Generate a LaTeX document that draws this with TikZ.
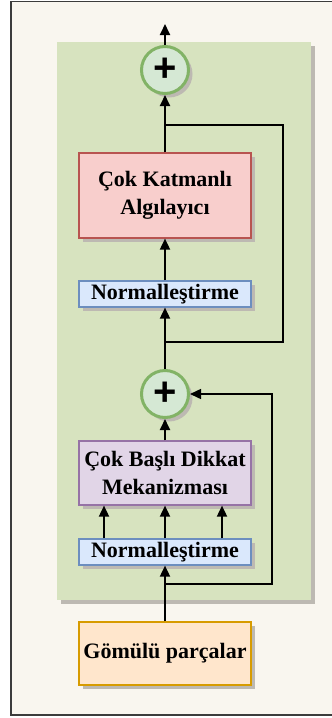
\documentclass[tikz,border=0pt]{standalone}
\usepackage{fontspec}
\setmainfont{Liberation Serif}
\newfontfamily\plusfont{Liberation Sans}
\usetikzlibrary{arrows.meta,shadows}
\definecolor{bgcream}{HTML}{F9F6EF}
\definecolor{framegrey}{HTML}{3C3C3C}
\definecolor{panelgreen}{HTML}{D7E3BF}
\definecolor{shadowgrey}{HTML}{BDB9B2}
\definecolor{pinkfill}{HTML}{F8CECC}
\definecolor{pinkline}{HTML}{B85450}
\definecolor{bluefill}{HTML}{DAE8FC}
\definecolor{blueline}{HTML}{6C8EBF}
\definecolor{purplefill}{HTML}{E1D5E7}
\definecolor{purpleline}{HTML}{9673A6}
\definecolor{orangefill}{HTML}{FFE6CC}
\definecolor{orangeline}{HTML}{D79B00}
\definecolor{circfill}{HTML}{D5E8D4}
\definecolor{circline}{HTML}{82B366}
\tikzset{
  shd/.style={drop shadow={shadow xshift=4pt,shadow yshift=-4pt,fill=shadowgrey,opacity=1}},
  blockbox/.style={rectangle,shd,line width=1.2pt,minimum width=172pt,inner sep=0pt,align=center,
    font=\fontsize{22}{28}\selectfont\bfseries},
  mlpbox/.style={blockbox,fill=pinkfill,draw=pinkline,minimum height=85pt},
  normbox/.style={blockbox,fill=bluefill,draw=blueline,minimum height=26pt},
  mhabox/.style={blockbox,fill=purplefill,draw=purpleline,minimum height=64pt},
  embbox/.style={blockbox,fill=orangefill,draw=orangeline,minimum height=63pt},
  addcirc/.style={circle,shd,fill=circfill,draw=circline,line width=3pt,minimum size=47pt,inner sep=0pt,
    font=\plusfont\fontsize{40}{40}\selectfont\bfseries},
  conn/.style={line width=1.8pt,draw=black,-{Triangle[width=10pt,length=11pt]}},
  resid/.style={line width=1.5pt,draw=black},
}
\begin{document}
\begin{tikzpicture}[x=1pt,y=-1pt]
\useasboundingbox (0,0) rectangle (332,718);
\fill[white] (0,0) rectangle (332,718);
\clip (0,0) rectangle (332,718);
% outer frame
\filldraw[fill=bgcream,draw=framegrey,line width=1.8pt] (11,1.5) rectangle (345,715);
% green panel
\fill[shadowgrey] (61,46) rectangle (315,604);
\fill[panelgreen] (57,42) rectangle (311,600);
% nodes
\node[embbox] (emb) at (165,653.5) {Gömülü parçalar};
\node[normbox] (norm2) at (165,552) {Normalleştirme};
\node[mhabox] (mha) at (165,473) {Çok Başlı Dikkat\\Mekanizması};
\node[addcirc] (add2) at (165,394) {+};
\node[normbox] (norm1) at (165,294) {Normalleştirme};
\node[mlpbox] (mlp) at (165,195.5) {Çok Katmanlı\\Algılayıcı};
\node[addcirc] (add1) at (165,70) {+};
\coordinate (out) at (165,24);
\coordinate (split2) at (165,584);
\coordinate (r2a) at (272,584);
\coordinate (r2b) at (272,394);
\coordinate (split1) at (165,342);
\coordinate (r1a) at (283,342);
\coordinate (r1b) at (283,125);
\coordinate (join1) at (165,125);
% connectors
\draw[conn] (emb.north) -- (norm2.south);
\draw[resid,-{Triangle[width=10pt,length=11pt]}] (split2) -- (r2a) -- (r2b) -- (add2.east);
\draw[conn] ([xshift=-61pt]norm2.north) -- ([xshift=-61pt]mha.south);
\draw[conn] (norm2.north) -- (mha.south);
\draw[conn] ([xshift=57pt]norm2.north) -- ([xshift=57pt]mha.south);
\draw[conn] (mha.north) -- (add2.south);
\draw[conn] (add2.north) -- (norm1.south);
\draw[resid] (split1) -- (r1a) -- (r1b) -- (join1);
\draw[conn] (norm1.north) -- (mlp.south);
\draw[conn] (mlp.north) -- (add1.south);
\draw[conn] (add1.north) -- (out);
\end{tikzpicture}
\end{document}
